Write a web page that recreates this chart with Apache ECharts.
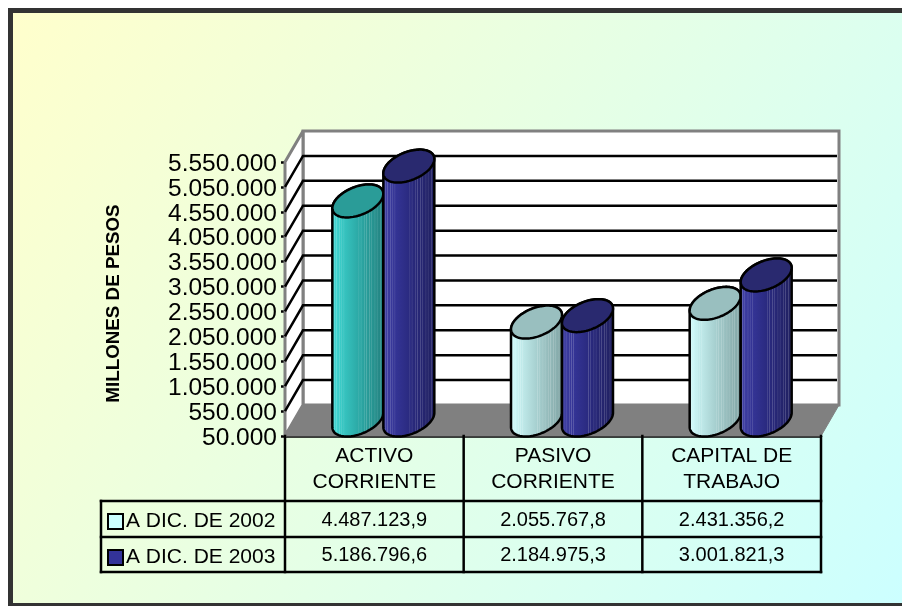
<!DOCTYPE html>
<html><head><meta charset="utf-8">
<style>html,body{margin:0;padding:0;background:#fff}#c{width:902px;height:606px}</style>
<script src="https://cdn.jsdelivr.net/npm/echarts@6/dist/echarts.min.js"></script>
</head><body><div id="c"></div>
<script>
var categories = ['ACTIVO\nCORRIENTE', 'PASIVO\nCORRIENTE', 'CAPITAL DE\nTRABAJO'];
var seriesNames = ['A DIC. DE 2002', 'A DIC. DE 2003'];
var values2002 = [4487123.9, 2055767.8, 2431356.2];
var values2003 = [5186796.6, 2184975.3, 3001821.3];
var yTicks = [50000, 550000, 1050000, 1550000, 2050000, 2550000, 3050000, 3550000, 4050000, 4550000, 5050000, 5550000];
var yTitle = 'MILLONES DE PESOS';

var FONT = '"Liberation Sans", Arial, sans-serif';
var DX = 18, DY = -31, SHIFT = 25.5;
var GRID = {left: 285, right: 81, top: 162, bottom: 170};
var ROWS = [501, 537, 572], TABLE_LEFT = 101;
var STREAKS = [.06,.1,.16,.2,.24,.52,.56,.62,.66,.72,.76,.82,.86,.92,.96];

var PAL = {
  teal: {side: ['#46dcd8', '#2fb8b4', '#23807e'], top: '#2a9c98'},
  pale: {side: ['#d4ffff', '#b4dede', '#7fa3a3'], top: '#99bfbf'},
  navy: {side: ['#4242a8', '#2e2e8c', '#20205f'], top: '#29296f'}
};
function blend(a, b, t) {
  var pa = parseInt(a.slice(1), 16), pb = parseInt(b.slice(1), 16), r = [];
  [16, 8, 0].forEach(function (s) {
    r.push(Math.round(((pa >> s) & 255) * (1 - t) + ((pb >> s) & 255) * t));
  });
  return 'rgb(' + r.join(',') + ')';
}
function sideAt(c, t) { return t < .35 ? blend(c[0], c[1], t / .35) : blend(c[1], c[2], (t - .35) / .65); }
function lighten(col, t) {
  var m = col.match(/\d+/g).map(Number);
  return 'rgb(' + m.map(function (v) { return Math.round(v + (255 - v) * t); }).join(',') + ')';
}
function sideFill(p) {
  var stops = [{offset: 0, color: sideAt(p.side, 0)}];
  STREAKS.forEach(function (s) {
    var base = sideAt(p.side, s);
    stops.push({offset: s - .012, color: base});
    stops.push({offset: s, color: lighten(base, .2)});
    stops.push({offset: s + .012, color: base});
  });
  stops.push({offset: 1, color: sideAt(p.side, 1)});
  return {type: 'linear', x: 0, y: 0, x2: 1, y2: 0, colorStops: stops};
}
var ROT = -22 * Math.PI / 180, A = 26.9, B = 14.1;
function ell(cx, cy, t) {
  return [cx + A * Math.cos(t) * Math.cos(ROT) - B * Math.sin(t) * Math.sin(ROT),
          cy + A * Math.cos(t) * Math.sin(ROT) + B * Math.sin(t) * Math.cos(ROT)];
}
function cylinder(side, palettes) {
  return function (params, api) {
    var i = api.value(0), v = api.value(1);
    var p = palettes[i];
    var top = api.coord([i, v]), base = api.coord([i, yTicks[0]]);
    var cx = top[0] + DX / 2 + side * SHIFT;
    var ty = top[1] - 14, by = base[1] - 16;
    var t0 = Math.atan2(-B * Math.sin(ROT), A * Math.cos(ROT));
    var pts = [], topPts = [], k, N = 48;
    for (k = 0; k <= N; k++) { pts.push(ell(cx, by, t0 + Math.PI * k / N)); }
    for (k = 0; k <= N; k++) { pts.push(ell(cx, ty, t0 + Math.PI + Math.PI * k / N)); }
    for (k = 0; k < N * 2; k++) { topPts.push(ell(cx, ty, Math.PI * k / N)); }
    return {type: 'group', children: [
      {type: 'polygon', shape: {points: pts}, style: {fill: sideFill(p), stroke: '#000', lineWidth: 2.5}},
      {type: 'polygon', shape: {points: topPts}, style: {fill: p.top, stroke: '#000', lineWidth: 2.5}}
    ]};
  };
}
function fmtInt(v) { return String(v).replace(/\B(?=(\d{3})+$)/g, '.'); }
function fmtVal(v) {
  var parts = v.toFixed(1).split('.');
  return fmtInt(parts[0]) + ',' + parts[1];
}

var W = 902 - GRID.left - GRID.right;
var BAND = W / categories.length;
var FRONT_Y = 606 - GRID.bottom;

var graphics = [
  {type: 'rect', z: -10, shape: {x: 8, y: 8, width: 894, height: 598}, style: {fill: '#333333'}},
  {type: 'rect', z: -9, shape: {x: 13, y: 13, width: 889, height: 590},
   style: {fill: {type: 'linear', x: 0, y: 0, x2: 1, y2: 1, colorStops: [{offset: 0, color: '#ffffcc'}, {offset: 1, color: '#ccffff'}]}}}
];
function line(x1, y1, x2, y2) {
  graphics.push({type: 'line', z: 20, shape: {x1: x1, y1: y1, x2: x2, y2: y2}, style: {stroke: '#000', lineWidth: 2.5, lineCap: 'square'}});
}
var right = GRID.left + W;
line(TABLE_LEFT, ROWS[0], right, ROWS[0]);
line(TABLE_LEFT, ROWS[1], right, ROWS[1]);
line(TABLE_LEFT, ROWS[2], right, ROWS[2]);
line(TABLE_LEFT, ROWS[0], TABLE_LEFT, ROWS[2]);
for (var c = 0; c <= categories.length; c++) { line(GRID.left + c * BAND, FRONT_Y, GRID.left + c * BAND, ROWS[2]); }
[values2002, values2003].forEach(function (vals, r) {
  vals.forEach(function (v, c) {
    graphics.push({type: 'text', z: 20, x: GRID.left + (c + .5) * BAND, y: (ROWS[r] + ROWS[r + 1]) / 2 + 1,
      style: {text: fmtVal(v), fill: '#000', font: '20px ' + FONT, textAlign: 'center', textVerticalAlign: 'middle'}});
  });
});

var option = {
  animation: false,
  graphic: graphics,
  grid: GRID,
  legend: {
    data: seriesNames.map(function (n) { return {name: n, icon: 'rect'}; }),
    orient: 'vertical', left: 102, top: 506, itemWidth: 15, itemHeight: 15, itemGap: 15,
    textStyle: {fontFamily: FONT, fontSize: 21, lineHeight: 21, color: '#000', padding: [0, 0, 0, -2]},
    selectedMode: false
  },
  xAxis: {
    type: 'category', data: categories,
    axisLine: {lineStyle: {color: '#000', width: 2.5}},
    axisTick: {show: false},
    axisLabel: {color: '#000', fontFamily: FONT, fontSize: 21, lineHeight: 26, margin: 7, interval: 0}
  },
  yAxis: {
    type: 'value', min: yTicks[0], max: yTicks[yTicks.length - 1],
    name: yTitle, nameLocation: 'middle', nameGap: 162, nameRotate: 90,
    nameTextStyle: {color: '#000', fontFamily: FONT, fontSize: 18.8, fontWeight: 'bold', padding: [0, 9, 0, 0]},
    axisLine: {show: true, lineStyle: {color: '#000', width: 2.5}},
    axisTick: {show: true, length: 4, customValues: yTicks, lineStyle: {color: '#000', width: 2.5}},
    axisLabel: {color: '#000', fontFamily: FONT, fontSize: 24.5, margin: 8, customValues: yTicks,
      formatter: function (v) { return '{a|' + fmtInt(v) + '}'; },
      rich: {a: {fontFamily: FONT, fontSize: 24.5, color: '#000', lineHeight: 29, verticalAlign: 'bottom'}}},
    splitLine: {show: false}
  },
  series: [
    {type: 'custom', name: 'walls', silent: true, z: 1, data: [[0, yTicks[0]]],
     renderItem: function (params, api) {
       var g = params.coordSys, l = g.x, r = g.x + g.width, t = g.y, b = g.y + g.height;
       return {type: 'group', children: [
         {type: 'polygon', shape: {points: [[l + DX, t + DY], [r + DX, t + DY], [r + DX, b + DY], [l + DX, b + DY]]}, style: {fill: '#fff', stroke: '#808080', lineWidth: 3}},
         {type: 'polygon', shape: {points: [[l, t], [l + DX, t + DY], [l + DX, b + DY], [l, b]]}, style: {fill: '#fff', stroke: '#808080', lineWidth: 3, lineJoin: 'bevel'}},
         {type: 'polygon', shape: {points: [[l, b], [l + DX, b + DY], [r + DX, b + DY], [r, b]]}, style: {fill: '#808080', stroke: '#808080', lineWidth: 1}}
       ]};
     }},
    {type: 'custom', name: 'gridlines', silent: true, z: 1, data: yTicks.slice(1, -1).map(function (v) { return [0, v]; }),
     renderItem: function (params, api) {
       var g = params.coordSys, y = api.coord([0, api.value(1)])[1];
       return {type: 'polyline', shape: {points: [[g.x, y], [g.x + DX, y + DY], [g.x + g.width + DX - 2, y + DY]]},
         style: {fill: 'none', stroke: '#000', lineWidth: 2.5}};
     }},
    {type: 'custom', name: seriesNames[0], silent: true, z: 3,
     itemStyle: {color: '#ccffff', borderColor: '#000', borderWidth: 2.5},
     data: values2002.map(function (v, i) { return [i, v]; }),
     renderItem: cylinder(-1, [PAL.teal, PAL.pale, PAL.pale])},
    {type: 'custom', name: seriesNames[1], silent: true, z: 4,
     itemStyle: {color: '#333399', borderColor: '#000', borderWidth: 2.5},
     data: values2003.map(function (v, i) { return [i, v]; }),
     renderItem: cylinder(1, [PAL.navy, PAL.navy, PAL.navy])}
  ]
};
echarts.init(document.getElementById('c'), null, {renderer: 'canvas'}).setOption(option);
</script></body></html>
